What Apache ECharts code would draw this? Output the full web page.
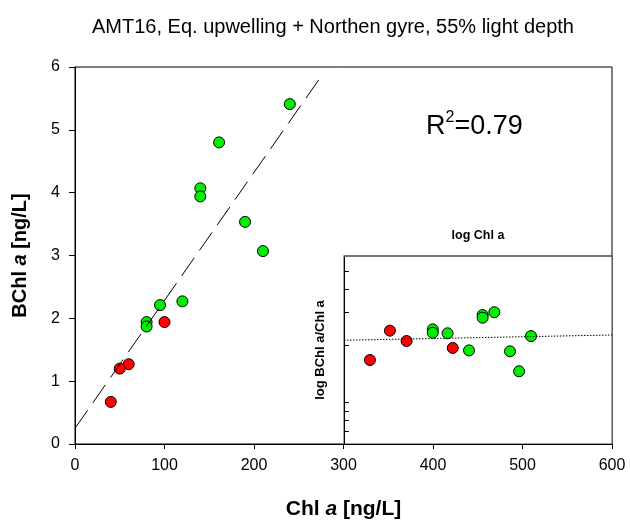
<!DOCTYPE html>
<html>
<head>
<meta charset="utf-8">
<script src="https://cdn.jsdelivr.net/npm/echarts@6/dist/echarts.min.js"></script>
<style>
  html, body { margin: 0; padding: 0; background: #fff; }
  #chart { width: 630px; height: 521px; }
</style>
</head>
<body>
<div id="chart"></div>
<script>
// main panel: Chl a vs BChl a (ng/L)
var greenChl = [240, 161, 140, 140, 190, 210, 120, 95, 80, 80];
var greenBChl = [5.41, 4.80, 4.07, 3.94, 3.535, 3.07, 2.27, 2.21, 1.94, 1.87];
var redChl = [100, 60, 50, 40];
var redBChl = [1.94, 1.27, 1.20, 0.67];
// dashed regression line, end points
var fitX = [0, 277];
var fitY = [0.25, 5.89];

// inset: log Chl a vs log (BChl a / Chl a)
var insetGreenLogChl = [1.908, 1.908, 1.980, 2.084, 2.150, 2.150, 2.207, 2.283, 2.327, 2.385];
var insetGreenLogRatio = [-1.612, -1.630, -1.633, -1.724, -1.536, -1.550, -1.521, -1.729, -1.835, -1.648];
var insetRedLogChl = [1.603, 1.700, 1.781, 2.005];
var insetRedLogRatio = [-1.775, -1.619, -1.674, -1.711];
// dotted fit in the inset
var insetFitX = [1.477, 2.778];
var insetFitY = [-1.670, -1.642];
// inset axis ranges (raw values) and log tick marks
var insetChlRange = [30, 600];
var insetRatioRange = [0.006, 0.06];
var insetTickRatios = [0.007, 0.008, 0.009, 0.01, 0.02, 0.03, 0.04, 0.05];

var FONT = 'Liberation Sans, Arial, sans-serif';
var GREEN = '#00ee00';
var RED = '#ff0000';

function pairs(xs, ys) {
    return xs.map(function (x, i) { return [x, ys[i]]; });
}

var chart = echarts.init(document.getElementById('chart'), null, { renderer: 'canvas' });

var dotStyle = function (c) {
    return { color: c, borderColor: '#000', borderWidth: 1, opacity: 1 };
};

chart.setOption({
    animation: false,
    backgroundColor: '#fff',
    textStyle: { fontFamily: FONT },
    graphic: [{
        type: 'text',
        x: 333, y: 27,
        style: {
            text: 'AMT16, Eq. upwelling + Northen gyre, 55% light depth',
            font: '20px ' + FONT,
            fill: '#000',
            align: 'center',
            verticalAlign: 'middle'
        }
    }, {
        type: 'text',
        x: 426, y: 110,
        style: {
            text: '{a|R}{s|2}{a|=0.79}',
            fill: '#000',
            rich: {
                a: { fontSize: 27, fontFamily: FONT, lineHeight: 30, verticalAlign: 'bottom' },
                s: { fontSize: 16, fontFamily: FONT, lineHeight: 30, verticalAlign: 'top' }
            }
        }
    }],
    grid: [{
        left: 75, right: 18, top: 67, bottom: 77,
        outerBoundsMode: 'none',
        show: true, borderColor: '#000', borderWidth: 1
    }, {
        left: 344, right: 18, top: 256, bottom: 77,
        outerBoundsMode: 'none',
        show: true, borderColor: '#444', borderWidth: 1, backgroundColor: '#fff'
    }],
    xAxis: [{
        gridIndex: 0, type: 'value', min: 0, max: 600, interval: 100,
        splitLine: { show: false },
        axisLine: { onZero: false, lineStyle: { color: '#000', width: 1 } },
        axisTick: { length: 5, lineStyle: { color: '#000' } },
        axisLabel: { color: '#000', fontSize: 16, margin: 14, fontFamily: FONT },
        name: '{b|Chl }{i|a}{b| [ng/L]}',
        nameLocation: 'middle', nameGap: 55,
        nameTextStyle: {
            rich: {
                b: { fontSize: 21, fontWeight: 'bold', color: '#000', fontFamily: FONT },
                i: { fontSize: 21, fontWeight: 'bold', fontStyle: 'italic', color: '#000', fontFamily: FONT }
            }
        }
    }, {
        gridIndex: 1, type: 'value', position: 'top',
        min: Math.log10(insetChlRange[0]), max: Math.log10(insetChlRange[1]),
        splitLine: { show: false },
        axisLine: { onZero: false, lineStyle: { color: '#666', width: 1.5 } },
        axisTick: { show: false },
        axisLabel: { show: false },
        name: 'log Chl a',
        nameLocation: 'middle', nameGap: 14,
        nameTextStyle: { fontSize: 12.5, fontWeight: 'bold', color: '#000', fontFamily: FONT }
    }],
    yAxis: [{
        gridIndex: 0, type: 'value', min: 0, max: 6, interval: 1,
        splitLine: { show: false },
        axisLine: { onZero: false, lineStyle: { color: '#000', width: 1 } },
        axisTick: { length: 6, lineStyle: { color: '#000' } },
        axisLabel: { color: '#000', fontSize: 16, margin: 15, fontFamily: FONT },
        name: '{b|BChl }{i|a}{b| [ng/L]}',
        nameLocation: 'middle', nameGap: 45,
        nameTextStyle: {
            rich: {
                b: { fontSize: 20, fontWeight: 'bold', color: '#000', fontFamily: FONT },
                i: { fontSize: 20, fontWeight: 'bold', fontStyle: 'italic', color: '#000', fontFamily: FONT }
            }
        }
    }, {
        gridIndex: 1, type: 'value',
        min: Math.log10(insetRatioRange[0]), max: Math.log10(insetRatioRange[1]),
        splitLine: { show: false },
        axisLine: { onZero: false, lineStyle: { color: '#000', width: 1 } },
        axisTick: {
            inside: true, length: 5, lineStyle: { color: '#000' },
            customValues: insetTickRatios.map(function (v) { return Math.log10(v); })
        },
        axisLabel: { show: false },
        name: 'log BChl a/Chl a',
        nameLocation: 'middle', nameGap: 17,
        nameTextStyle: { fontSize: 13, fontWeight: 'bold', color: '#000', fontFamily: FONT }
    }],
    series: [{
        type: 'line', xAxisIndex: 0, yAxisIndex: 0,
        data: pairs(fitX, fitY),
        symbol: 'none', silent: true,
        lineStyle: { color: '#000', width: 1, type: [22, 9] }
    }, {
        type: 'scatter', xAxisIndex: 0, yAxisIndex: 0,
        data: pairs(greenChl, greenBChl),
        symbolSize: 11, itemStyle: dotStyle(GREEN)
    }, {
        type: 'scatter', xAxisIndex: 0, yAxisIndex: 0,
        data: pairs(redChl, redBChl),
        symbolSize: 11, itemStyle: dotStyle(RED)
    }, {
        type: 'line', xAxisIndex: 1, yAxisIndex: 1,
        data: pairs(insetFitX, insetFitY),
        symbol: 'none', silent: true,
        lineStyle: { color: '#000', width: 1, type: [1.5, 1.5] }
    }, {
        type: 'scatter', xAxisIndex: 1, yAxisIndex: 1,
        data: pairs(insetGreenLogChl, insetGreenLogRatio),
        symbolSize: 11, itemStyle: dotStyle(GREEN)
    }, {
        type: 'scatter', xAxisIndex: 1, yAxisIndex: 1,
        data: pairs(insetRedLogChl, insetRedLogRatio),
        symbolSize: 11, itemStyle: dotStyle(RED)
    }]
});
</script>
</body>
</html>
